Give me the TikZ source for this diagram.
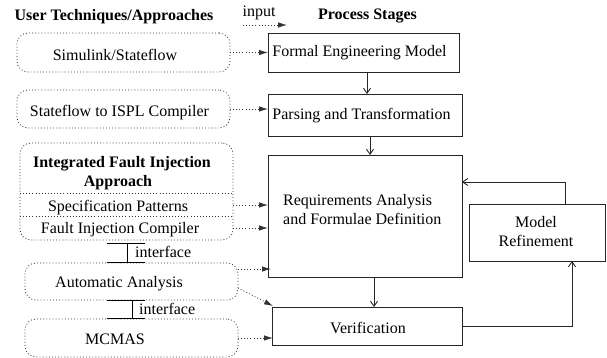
\documentclass[tikz,border=0pt]{standalone}
\usepackage{fontspec}
\setmainfont{Liberation Serif}
\usetikzlibrary{arrows.meta}
\begin{document}
\begin{tikzpicture}[x=1pt,y=-1pt,
  every node/.style={font=\fontsize{16}{19}\selectfont},
  sbox/.style={draw=black!85,line width=0.9pt,inner sep=0pt,outer sep=0pt},
  ubox/.style={draw=black!80,line width=0.8pt,dash pattern=on 0.9pt off 2.2pt,rounded corners=11pt,inner sep=0pt,outer sep=0pt},
  dotl/.style={draw=black!80,line width=0.8pt,dash pattern=on 0.9pt off 2.2pt},
  txt/.style={inner sep=0pt,anchor=base},
  darr/.style={dotl,-{Latex[length=9pt,width=5.5pt]}},
  sarr/.style={draw=black!85,line width=0.9pt,-{Straight Barb[length=5pt,width=7pt]}},
  ifc/.style={draw=black,line width=0.8pt}
]
\useasboundingbox (0,0) rectangle (607,358);

% headings
\node[txt,font=\fontsize{16}{19}\selectfont\bfseries] (hUser) at (114,21) {User Techniques/Approaches};
\node[txt,font=\fontsize{16}{19}\selectfont\bfseries] (hProc) at (367.5,20) {Process Stages};
\node[txt] (hIn) at (259,17) {input};
\coordinate (inA) at (243,25);
\coordinate (inB) at (287,25);
\draw[darr] (inA) -- (inB);

% left dotted boxes
\node[ubox,minimum width=213pt,minimum height=39pt] (sim) at (123.5,52.5) {};
\node[txt] (simT) at (115,61) {Simulink/Stateflow};
\node[ubox,minimum width=213pt,minimum height=38pt] (sfi) at (123.5,109) {};
\node[txt] (sfiT) at (119.5,117) {Stateflow to ISPL Compiler};
\node[ubox,minimum width=213pt,minimum height=97pt] (ifi) at (126.5,191.5) {};
\node[txt,font=\fontsize{16}{19}\selectfont\bfseries] (ifiT1) at (122,167.5) {Integrated Fault Injection};
\node[txt,font=\fontsize{16}{19}\selectfont\bfseries] (ifiT2) at (118,186) {Approach};
\coordinate (l1) at (0,193);
\coordinate (l2) at (0,216);
\draw[dotl] (ifi.west |- l1) -- (ifi.east |- l1);
\draw[dotl] (ifi.west |- l2) -- (ifi.east |- l2);
\node[txt] (specT) at (118,211.7) {Specification Patterns};
\node[txt] (ficT) at (120,233) {Fault Injection Compiler};
\node[ubox,minimum width=213pt,minimum height=37pt] (aa) at (131.5,281.5) {};
\node[txt] (aaT) at (119,287) {Automatic Analysis};
\node[ubox,minimum width=213pt,minimum height=38pt] (mc) at (131.5,338) {};
\node[txt] (mcT) at (115,344) {MCMAS};

% interfaces
\draw[ifc] (107,243) -- (145,243);
\draw[ifc] (127,243) -- (127,262);
\draw[ifc] (107,262) -- (145,262);
\node[txt,anchor=base west] (if1) at (135,257) {interface};
\draw[ifc] (107,300) -- (145,300);
\draw[ifc] (132,300) -- (132,318);
\draw[ifc] (107,318) -- (145,318);
\node[txt,anchor=base west] (if2) at (139,314) {interface};

% process stages
\node[sbox,minimum width=191pt,minimum height=39pt] (fem) at (363.5,52.5) {};
\node[txt] (femT) at (359.5,57) {Formal Engineering Model};
\node[sbox,minimum width=194pt,minimum height=42pt] (pt) at (365,115) {};
\node[txt] (ptT) at (361.5,120) {Parsing and Transformation};
\node[sbox,minimum width=194pt,minimum height=122pt] (req) at (365,216) {};
\node[txt,anchor=base west] (reqT1) at (283,205) {Requirements Analysis};
\node[txt,anchor=base west] (reqT2) at (283,224) {and Formulae Definition};
\node[sbox,minimum width=136pt,minimum height=57pt] (mr) at (537,232.5) {};
\node[txt] (mrT1) at (536,227) {Model};
\node[txt] (mrT2) at (536,246) {Refinement};
\node[sbox,minimum width=190pt,minimum height=38pt] (ver) at (367,326) {};
\node[txt] (verT) at (368,333) {Verification};

% dotted input arrows
\coordinate (ySpec) at (0,205);
\coordinate (yFic) at (0,228);
\coordinate (yAa) at (0,269);
\coordinate (yAa2) at (0,288);
\draw[darr] (sim.east) -- (sim.east -| fem.west);
\draw[darr] (sfi.east) -- (sfi.east -| pt.west);
\draw[darr] (ifi.east |- ySpec) -- (req.west |- ySpec);
\draw[darr] (ifi.east |- yFic) -- (req.west |- yFic);
\draw[darr] (aa.east |- yAa) -- ([xshift=3pt]req.west |- yAa);
\draw[darr] (aa.east |- yAa2) -- ([xshift=1pt,yshift=1pt]ver.north west);
\draw[darr] (mc.east) -- ([xshift=1pt]mc.east -| ver.west);

% solid arrows
\coordinate (fb) at (0,182);
\draw[sarr] ([xshift=3.5pt]fem.south) -- ([xshift=3.5pt]fem.south |- pt.north);
\draw[sarr] ([xshift=5pt]pt.south) -- ([xshift=5pt]pt.south |- req.north);
\draw[sarr] ([xshift=9pt]req.south) -- ([xshift=9pt]req.south |- ver.north);
\draw[sarr] (ver.east) -| ([xshift=35pt]mr.south);
\draw[sarr] ([xshift=28pt]mr.north) |- (req.east |- fb);
\end{tikzpicture}
\end{document}
